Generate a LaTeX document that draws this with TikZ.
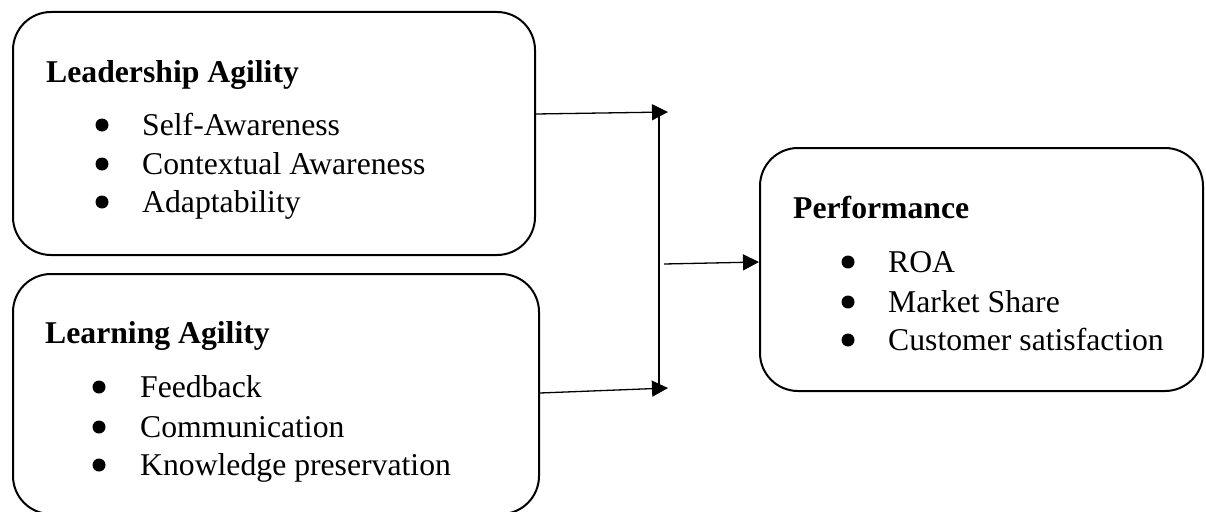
\documentclass[tikz,border=0pt]{standalone}
\usepackage{fontspec}
\setmainfont{Liberation Serif}
\usetikzlibrary{arrows.meta,calc}
\tikzset{
  box/.style={draw=black, line width=2pt, rounded corners=38pt, inner sep=0pt},
  head/.style={anchor=base west, inner sep=0pt, font=\fontsize{31.7}{38}\selectfont\bfseries},
  item/.style={anchor=base west, inner sep=0pt, font=\fontsize{31.7}{38}\selectfont},
  conn/.style={draw=black, line width=1.3pt},
  arr/.style={conn, -{Triangle[length=16pt,width=16pt]}},
  dot/.style={fill=black}
}
\begin{document}
\begin{tikzpicture}[x=1pt,y=-1pt]
\useasboundingbox (0,0) rectangle (1206,511);
% boxes
\node[box, minimum width=522pt, minimum height=243pt] (box1) at (274,133.5) {};
\node[box, minimum width=526pt, minimum height=240pt] (box2) at (276,394) {};
\node[box, minimum width=443pt, minimum height=243pt] (box3) at (981.5,269.5) {};
% box 1 text
\node[head] (h1) at (46,82) {Leadership Agility};
\fill[dot] (102,125) circle (6.5pt);
\node[item] (i11) at (142,135) {Self-Awareness};
\fill[dot] (102,164) circle (6.5pt);
\node[item] (i12) at (142,174) {Contextual Awareness};
\fill[dot] (102,202) circle (6.5pt);
\node[item] (i13) at (142,212) {Adaptability};
% box 2 text
\node[head] (h2) at (45,343) {Learning Agility};
\fill[dot] (99,387) circle (6.5pt);
\node[item] (i21) at (140,397) {Feedback};
\fill[dot] (99,427) circle (6.5pt);
\node[item] (i22) at (140,437) {Communication};
\fill[dot] (99,465) circle (6.5pt);
\node[item] (i23) at (140,475) {Knowledge preservation};
% box 3 text
\node[head] (h3) at (793,218) {Performance};
\fill[dot] (848,262) circle (6.5pt);
\node[item] (i31) at (888,272) {ROA};
\fill[dot] (848,302) circle (6.5pt);
\node[item] (i32) at (888,312) {Market Share};
\fill[dot] (848,340) circle (6.5pt);
\node[item] (i33) at (888,350) {Customer satisfaction};
% connectors
\coordinate (t1) at (668,112);
\coordinate (t2) at (668,388);
\coordinate (vt) at (659,112);
\coordinate (vb) at (659,390);
\coordinate (m) at (664,264);
\draw[arr] ([yshift=19.5pt]box1.east) -- (t1);
\draw[arr] ([yshift=1pt]box2.east) -- (t2);
\draw[conn] (vt) -- (vb);
\draw[arr] (m) -- ([yshift=7.5pt]box3.west);
\end{tikzpicture}
\end{document}
